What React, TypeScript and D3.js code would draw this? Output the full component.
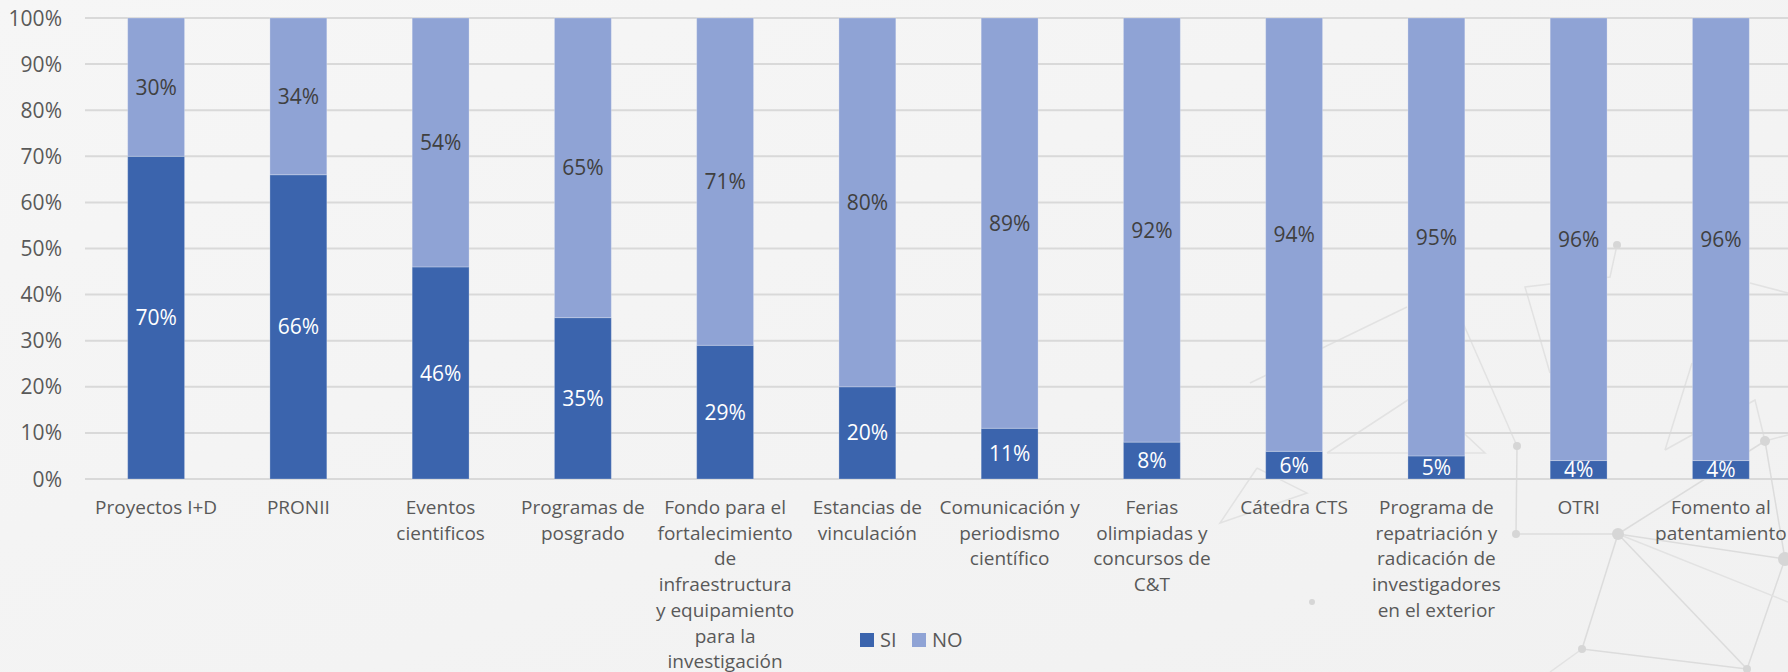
import React from "react";
import * as d3 from "d3";

const categories: string[][] = [
  ["Proyectos I+D"],
  ["PRONII"],
  ["Eventos", "cientificos"],
  ["Programas de", "posgrado"],
  ["Fondo para el", "fortalecimiento", "de", "infraestructura", "y equipamiento", "para la", "investigación"],
  ["Estancias de", "vinculación"],
  ["Comunicación y", "periodismo", "científico"],
  ["Ferias", "olimpiadas y", "concursos de", "C&T"],
  ["Cátedra CTS"],
  ["Programa de", "repatriación y", "radicación de", "investigadores", "en el exterior"],
  ["OTRI"],
  ["Fomento al", "patentamiento"],
];
const siValues = [70, 66, 46, 35, 29, 20, 11, 8, 6, 5, 4, 4];
const noValues = [30, 34, 54, 65, 71, 80, 89, 92, 94, 95, 96, 96];
const yTicks = [0, 10, 20, 30, 40, 50, 60, 70, 80, 90, 100];
const seriesNames = ["SI", "NO"];

// decorative background network (not data)
const decoNodes: [number, number, number][] = [
  [1517, 446, 4], [1516, 534, 4], [1618, 534, 6], [1765, 441, 5], [1785, 559, 7],
  [1582, 649, 4], [1747, 669, 4], [1617, 245, 4], [1312, 602, 3],
];
const decoEdges: [number, number][] = [
  [0, 1], [1, 2], [2, 4], [2, 5], [2, 6], [2, 3], [3, 4], [4, 6], [5, 6],
];
const decoPolys: [number, number][][] = [
  [[1250, 383], [1407, 307]],
  [[1327, 453], [1485, 453], [1420, 392], [1327, 453]],
  [[1463, 323], [1517, 446]],
  [[1617, 245], [1610, 277], [1525, 287], [1550, 373]],
  [[1257, 468], [1307, 493], [1220, 523], [1257, 468]],
  [[1665, 450], [1755, 400], [1765, 441]],
  [[1665, 450], [1692, 363]],
  [[1750, 283], [1788, 293]],
  [[1765, 441], [1788, 435]],
  [[1618, 534], [1788, 602]],
  [[1582, 649], [1550, 672]],
];

const W = 1788;
const H = 672;
const plotLeft = 85;
const plotTop = 18;
const plotBottom = 479;
const FONT = "'Open Sans', sans-serif";
const SI_COLOR = "#3B64AD";
const NO_COLOR = "#8FA3D5";

export default function App() {
  const keys = categories.map((c) => c.join(" "));
  const x = d3
    .scaleBand<string>()
    .domain(keys)
    .range([plotLeft, 1792])
    .paddingInner(0.6)
    .paddingOuter(0.3);
  const y = d3.scaleLinear().domain([0, 100]).range([plotBottom, plotTop]);

  const stackData = keys.map((k, i) => ({ key: k, SI: siValues[i], NO: noValues[i] }));
  const stacked = d3.stack<any>().keys(seriesNames)(stackData);
  const colors: Record<string, string> = { SI: SI_COLOR, NO: NO_COLOR };
  const labelColors: Record<string, string> = { SI: "#FFFFFF", NO: "#404040" };

  const legendX = 860;
  const legendY = 640;

  return (
    <svg
      width={W}
      height={H}
      style={{ position: "absolute", left: 0, top: 0, display: "block" }}
      fontFamily={FONT}
    >
      <defs>
        <linearGradient id="bg" x1="0" y1="0" x2="1" y2="1">
          <stop offset="0" stopColor="#F6F6F6" />
          <stop offset="1" stopColor="#F1F1F1" />
        </linearGradient>
      </defs>
      <rect x={0} y={0} width={W} height={H} fill="url(#bg)" />

      {/* decoration */}
      <g stroke="#DCDCDC" strokeWidth={1.5} fill="none">
        {decoEdges.map(([a, b], i) => (
          <line key={i} x1={decoNodes[a][0]} y1={decoNodes[a][1]} x2={decoNodes[b][0]} y2={decoNodes[b][1]} />
        ))}
        {decoPolys.map((p, i) => (
          <path key={"p" + i} d={d3.line()(p) || ""} stroke="#E2E2E2" />
        ))}
      </g>
      <g fill="#D6D6D6">
        {decoNodes.map(([cx, cy, r], i) => (
          <circle key={i} cx={cx} cy={cy} r={r} />
        ))}
      </g>

      {/* gridlines */}
      <g>
        {yTicks.map((t) => (
          <line key={t} x1={plotLeft} x2={W} y1={y(t)} y2={y(t)} stroke="#D9D9D9" strokeWidth={2} />
        ))}
      </g>

      {/* y tick labels */}
      <g fill="#595959" fontSize={21} textAnchor="end">
        {yTicks.map((t) => (
          <text key={t} x={62} y={y(t)} dy="0.36em">
            {t}%
          </text>
        ))}
      </g>

      {/* bars */}
      {stacked.map((series) => (
        <g key={series.key} fill={colors[series.key]}>
          {series.map((d, i) => (
            <rect
              key={i}
              x={x(keys[i])}
              y={y(d[1])}
              width={x.bandwidth()}
              height={y(d[0]) - y(d[1])}
              stroke="#FFFFFF"
              strokeOpacity={0.25}
              strokeWidth={1}
            />
          ))}
        </g>
      ))}

      {/* data labels */}
      {stacked.map((series) => (
        <g key={series.key + "l"} fill={labelColors[series.key]} fontSize={21} textAnchor="middle">
          {series.map((d, i) => (
            <text key={i} x={(x(keys[i]) as number) + x.bandwidth() / 2} y={y((d[0] + d[1]) / 2)} dy="0.36em">
              {d[1] - d[0]}%
            </text>
          ))}
        </g>
      ))}

      {/* category labels */}
      <g fill="#595959" fontSize={19} textAnchor="middle">
        {categories.map((lines, i) => (
          <text key={i} x={(x(keys[i]) as number) + x.bandwidth() / 2} y={514}>
            {lines.map((ln, j) => (
              <tspan key={j} x={(x(keys[i]) as number) + x.bandwidth() / 2} y={514 + j * 25.7}>
                {ln}
              </tspan>
            ))}
          </text>
        ))}
      </g>

      {/* legend */}
      <g fontSize={20} fill="#595959">
        <rect x={legendX} y={legendY - 7} width={14} height={14} fill={SI_COLOR} />
        <text x={legendX + 20} y={legendY} dy="0.36em">SI</text>
        <rect x={legendX + 52} y={legendY - 7} width={14} height={14} fill={NO_COLOR} />
        <text x={legendX + 72} y={legendY} dy="0.36em">NO</text>
      </g>
    </svg>
  );
}
